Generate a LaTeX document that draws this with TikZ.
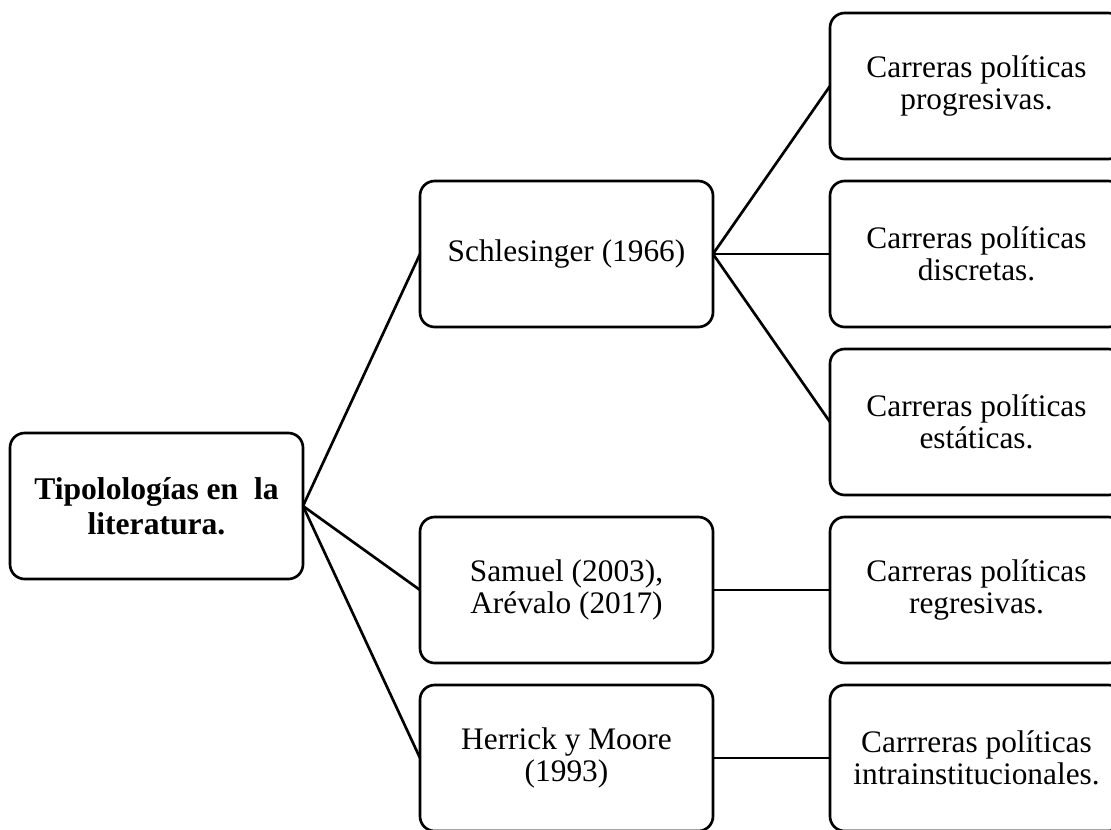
\documentclass[tikz,border=0pt]{standalone}
\usepackage{fontspec}
\setmainfont{Liberation Serif}
\begin{document}
\begin{tikzpicture}[x=0.75pt,y=-0.75pt,
	box/.style={draw,line width=2pt,rounded corners=11pt,minimum width=219.75pt,minimum height=109.5pt,
		inner sep=0pt,outer sep=0pt,align=center,font=\fontsize{23.5}{24}\selectfont},
	link/.style={line width=2pt}]
	\useasboundingbox (0, 0) rectangle (1111, 829);
	\clip (0, 0) rectangle (1111, 829);
	% root
	\node[box,font=\fontsize{23.7}{26.5}\selectfont\bfseries] (tipos) at (156.5, 506) {Tipolologías en\ \ la\\literatura.};
	% authors
	\node[box] (schlesinger) at (566.5, 254) {Schlesinger (1966)};
	\node[box] (samuel) at (566.5, 590) {Samuel (2003),\\Arévalo (2017)};
	\node[box] (herrick) at (566.5, 758) {Herrick y Moore\\(1993)};
	% careers
	\node[box] (progresivas) at (976.5, 86) {Carreras políticas\\progresivas.};
	\node[box] (discretas) at (976.5, 254) {Carreras políticas\\discretas.};
	\node[box] (estaticas) at (976.5, 422) {Carreras políticas\\estáticas.};
	\node[box] (regresivas) at (976.5, 590) {Carreras políticas\\regresivas.};
	\node[box] (intra) at (976.5, 758) {Carrreras políticas\\intrainstitucionales.};
	\draw[link] (tipos.east) -- (schlesinger.west);
	\draw[link] (tipos.east) -- (samuel.west);
	\draw[link] (tipos.east) -- (herrick.west);
	\draw[link] (schlesinger.east) -- (progresivas.west);
	\draw[link] (schlesinger.east) -- (discretas.west);
	\draw[link] (schlesinger.east) -- (estaticas.west);
	\draw[link] (samuel.east) -- (regresivas.west);
	\draw[link] (herrick.east) -- (intra.west);
\end{tikzpicture}
\end{document}
